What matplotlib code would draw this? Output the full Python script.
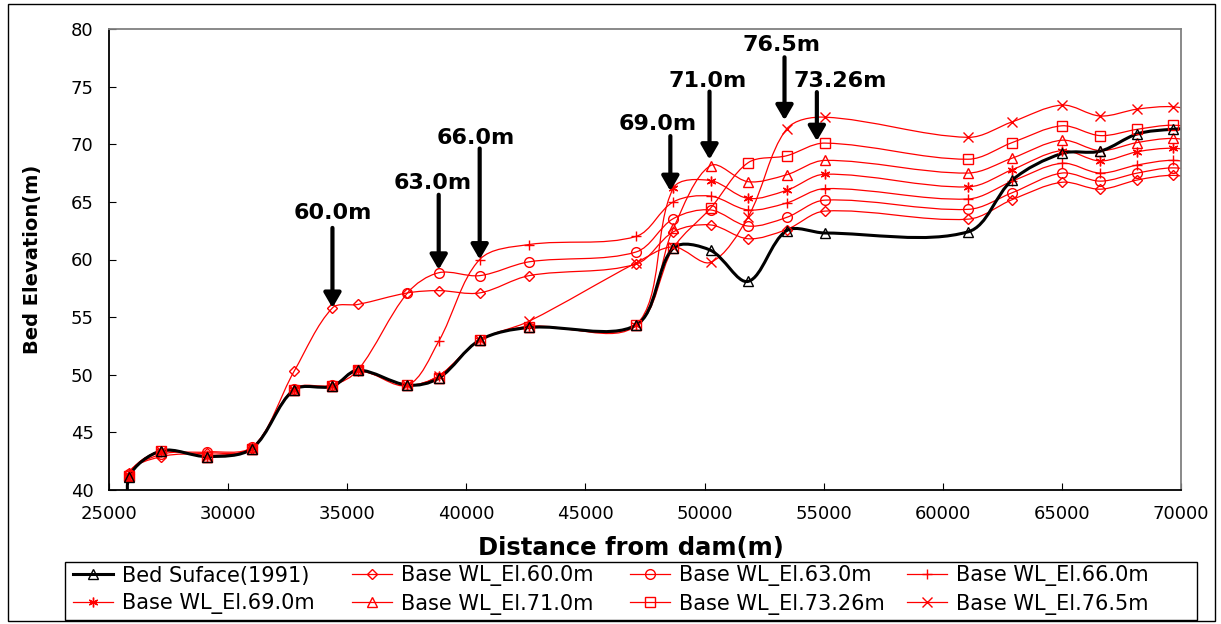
import numpy as np
import matplotlib
matplotlib.use('Agg')
import matplotlib.pyplot as plt
from matplotlib.path import Path
from matplotlib.patches import PathPatch, Rectangle
from matplotlib.lines import Line2D
from matplotlib.transforms import ScaledTranslation

# distance from dam (m); first and last stations sit just outside the plotted range
distance = [26000, 25840, 27200, 29130, 31000, 32770, 34380, 35450, 37530, 38840, 40560,
            42640, 47120, 48690, 50250, 51830, 53440, 55050, 61060, 62920, 65000,
            66610, 68170, 69660, 71300]

bed_1991 = [37.0, 41.1, 43.4, 42.9, 43.6, 48.7, 49.0, 50.4, 49.1, 49.7, 53.0,
            54.1, 54.3, 61.0, 60.8, 58.1, 62.5, 62.3, 62.4, 66.9, 69.2,
            69.4, 70.9, 71.3, 71.4]
wl_60 = [37.0, 41.5, 42.9, 43.2, 43.6, 50.3, 55.8, 56.1, 57.1, 57.3, 57.1,
         58.6, 59.6, 62.4, 63.0, 61.8, 62.6, 64.2, 63.5, 65.2, 66.7,
         66.1, 66.9, 67.3, 66.8]
wl_63 = [37.0, 41.4, 43.1, 43.3, 43.7, 48.8, 49.1, 50.4, 57.1, 58.85, 58.6,
         59.8, 60.65, 63.55, 64.3, 62.9, 63.65, 65.15, 64.35, 65.8, 67.5,
         66.8, 67.5, 67.95, 67.5]
wl_66 = [37.0, 41.3, 43.3, 43.0, 43.7, 48.7, 49.0, 50.4, 49.1, 52.9, 60.0,
         61.3, 62.0, 65.0, 65.5, 64.3, 64.9, 66.15, 65.25, 66.8, 68.35,
         67.5, 68.2, 68.6, 68.1]
wl_69 = [37.0, 41.3, 43.4, 42.9, 43.7, 48.7, 49.0, 50.3, 49.1, 49.9, 53.0,
         54.2, 54.3, 66.2, 66.85, 65.3, 66.0, 67.4, 66.3, 67.8, 69.45,
         68.55, 69.35, 69.65, 69.2]
wl_71 = [37.0, 41.3, 43.4, 42.9, 43.6, 48.7, 49.0, 50.4, 49.1, 49.7, 53.0,
         54.1, 54.3, 62.7, 68.15, 66.75, 67.35, 68.6, 67.5, 68.8, 70.35,
         69.45, 70.15, 70.5, 70.0]
wl_7326 = [37.0, 41.2, 43.4, 42.9, 43.6, 48.7, 49.0, 50.4, 49.1, 49.7, 53.0,
           54.1, 54.3, 61.0, 64.45, 68.4, 69.0, 70.1, 68.7, 70.15, 71.6,
           70.75, 71.3, 71.65, 71.2]
wl_765 = [37.0, 41.2, 43.4, 42.9, 43.6, 48.7, 49.0, 50.4, 49.1, 49.9, 53.0,
          54.65, 59.7, 61.1, 59.75, 63.7, 71.3, 72.35, 70.6, 71.95, 73.4,
          72.45, 73.05, 73.25, 72.6]

# label, series, station index, then pixel offsets: dx, tip, tail, text dx, text dy
arrows = [('60.0m', wl_60, 6, 0, 0, 80, 0, 95),
          ('63.0m', wl_63, 9, 0, 3, 78, -6, 90),
          ('66.0m', wl_66, 10, 0, 0, 111, -4, 122),
          ('69.0m', wl_69, 13, -3, -3, 52, -16, 64),
          ('71.0m', wl_71, 14, -1, 6, 74, -3, 85),
          ('76.5m', wl_765, 16, -2, 9, 72, -5, 84),
          ('73.26m', wl_7326, 17, -8, 2, 51, 15, 62)]

# screen scale (px per data unit) so the smoothing behaves like the spreadsheet's
SX = 1072 / 45000
SY = 461 / 40


def smooth_path(x, y):
    pts = np.column_stack([np.asarray(x) * SX, np.asarray(y) * SY])
    n = len(pts)
    verts = [pts[0]]
    codes = [Path.MOVETO]
    for i in range(n - 1):
        p0 = pts[max(i - 1, 0)]
        p1 = pts[i]
        p2 = pts[i + 1]
        p3 = pts[min(i + 2, n - 1)]
        d01 = np.hypot(*(p1 - p0))
        d12 = np.hypot(*(p2 - p1))
        d23 = np.hypot(*(p3 - p2))
        w1 = d12 / (d01 + d12) if d01 + d12 > 0 else 0.5
        w2 = d12 / (d12 + d23) if d12 + d23 > 0 else 0.5
        c1 = p1 + (p2 - p0) * w1 / 3
        c2 = p2 - (p3 - p1) * w2 / 3
        verts += [c1, c2, p2]
        codes += [Path.CURVE4] * 3
    verts = np.array(verts) / [SX, SY]
    return Path(verts, codes)


W, H = 1221, 624
fig = plt.figure(figsize=(W / 100, H / 100), dpi=100)
ax = fig.add_axes([109 / W, 1 - 490 / H, 1072 / W, 461 / H])

series = [('Bed Suface(1991)', bed_1991, 'k', '^', 2.2),
          ('Base WL_El.60.0m', wl_60, 'red', 'D', 0.9),
          ('Base WL_El.63.0m', wl_63, 'red', 'o', 0.9),
          ('Base WL_El.66.0m', wl_66, 'red', '+', 0.9),
          ('Base WL_El.69.0m', wl_69, 'red', (6, 2, 0), 0.9),
          ('Base WL_El.71.0m', wl_71, 'red', '^', 0.9),
          ('Base WL_El.73.26m', wl_7326, 'red', 's', 0.9),
          ('Base WL_El.76.5m', wl_765, 'red', 'x', 0.9)]

handles = {}
for label, vals, col, mk, lw in series[::-1]:
    ax.add_patch(PathPatch(smooth_path(distance, vals), fill=False, edgecolor=col, lw=lw, zorder=2))
    ms = 5 if mk == 'D' else 7
    ax.plot(distance, vals, linestyle='none', marker=mk, ms=ms, mfc='none', mec=col, mew=1.0, zorder=3)
    handles[label] = Line2D([], [], color=col, lw=lw, marker=mk, ms=ms, mfc='none', mec=col, mew=1.0)

for label, vals, idx, dx, tip, tail, tdx, tdy in arrows:
    xy = (distance[idx], vals[idx])
    trans = ax.transData + ScaledTranslation(dx / 100, tip / 100, fig.dpi_scale_trans)
    ax.annotate('', xy=xy, xycoords=trans, xytext=(0, tail - tip), textcoords='offset pixels',
                arrowprops=dict(arrowstyle='-|>,head_length=0.55,head_width=0.32', color='k',
                                lw=3, mutation_scale=16, shrinkA=0, shrinkB=0), zorder=5)
    ax.annotate(label, xy=xy, xytext=(tdx, tdy), textcoords='offset pixels',
                ha='center', va='center', fontsize=16, fontweight='bold', zorder=5)

ax.set_xlim(25000, 70000)
ax.set_ylim(40, 80)
ax.set_xticks(np.arange(25000, 70001, 5000))
ax.set_yticks(np.arange(40, 81, 5))
ax.tick_params(direction='in', length=5, labelsize=13, pad=11)
ax.spines['top'].set_color('#808080')
ax.spines['right'].set_color('#808080')
for s in ax.spines.values():
    s.set_linewidth(1.3)

ax.set_xlabel('Distance from dam(m)', fontsize=17.5, fontweight='bold')
ax.xaxis.set_label_coords(0.487, -0.126)
ax.xaxis.label.set_va('center')
ax.set_ylabel('Bed Elevation(m)', fontsize=14, fontweight='bold')
ax.yaxis.set_label_coords(-0.071, 0.5)
ax.yaxis.label.set_va('center')

# legend: four fixed-width columns inside one box, as in the spreadsheet chart
columns = [['Bed Suface(1991)', 'Base WL_El.69.0m'],
           ['Base WL_El.60.0m', 'Base WL_El.71.0m'],
           ['Base WL_El.63.0m', 'Base WL_El.73.26m'],
           ['Base WL_El.66.0m', 'Base WL_El.76.5m']]
col_x = [73, 352, 630, 907]
for cx, labels in zip(col_x, columns):
    fig.legend([handles[k] for k in labels], labels, loc='center left',
               bbox_to_anchor=(cx / W, 1 - 590 / H), fontsize=15, frameon=False,
               handlelength=1.92, handletextpad=0.43, labelspacing=0.36,
               borderpad=0, borderaxespad=0)

fig.patches.append(Rectangle((65 / W, 1 - 620 / H), 1132 / W, 58 / H, fill=False,
                             edgecolor='k', lw=1.0, transform=fig.transFigure))
fig.patches.append(Rectangle((8 / W, 3 / H), 1207 / W, 617 / H, fill=False,
                             edgecolor='k', lw=1.0, transform=fig.transFigure))

fig.savefig('out.png', dpi=100)
